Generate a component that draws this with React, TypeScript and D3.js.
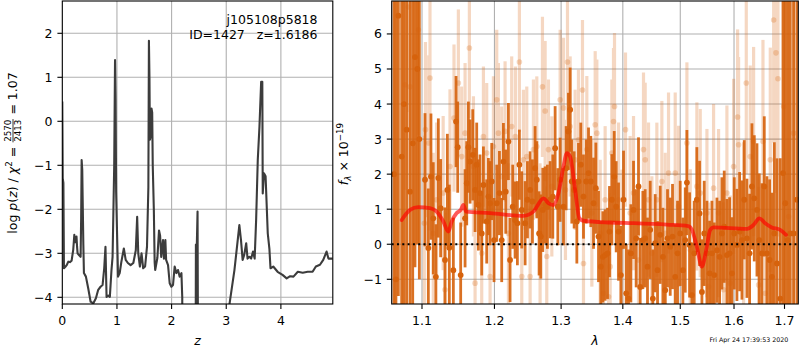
import React from 'react';
import * as d3 from 'd3';

// ---------- left panel: log p(z) ----------
const pzZ = [0.000,0.008,0.020,0.030,0.060,0.080,0.110,0.140,0.170,0.200,0.220,0.235,0.245,0.260,0.270,0.280,0.305,0.335,0.345,0.354,0.365,0.372,0.385,0.396,0.432,0.475,0.518,0.566,0.615,0.657,0.700,0.737,0.767,0.790,0.810,0.840,0.870,0.900,0.920,0.950,0.965,0.975,0.985,1.020,1.050,1.080,1.126,1.160,1.200,1.250,1.300,1.345,1.370,1.390,1.420,1.450,1.480,1.515,1.550,1.575,1.585,1.595,1.603,1.625,1.632,1.645,1.655,1.675,1.690,1.700,1.740,1.770,1.790,1.810,1.843,1.860,1.886,1.900,1.935,1.965,1.996,2.026,2.056,2.088,2.117,2.148,2.180,2.195,2.205,2.435,2.445,2.460,2.475,2.490,2.990,3.000,3.060,3.150,3.190,3.240,3.270,3.300,3.330,3.365,3.390,3.425,3.456,3.490,3.520,3.547,3.577,3.608,3.639,3.660,3.668,3.690,3.720,3.760,3.790,3.810,3.860,3.940,4.030,4.106,4.170,4.230,4.310,4.400,4.490,4.580,4.640,4.715,4.775,4.836,4.870,4.950];
const pzLogP = [0.45,-1.30,-1.40,-3.34,-3.30,-3.27,-3.19,-3.20,-3.17,-2.92,-2.58,-2.75,-2.68,-2.62,-2.85,-3.00,-3.04,-3.08,-2.20,-0.88,-1.10,-1.71,-2.80,-3.45,-3.53,-3.80,-4.10,-4.14,-4.02,-3.83,-3.76,-3.72,-3.34,-2.85,-3.99,-3.96,-3.99,-3.38,-3.08,-1.00,1.39,0.50,-1.60,-3.53,-3.45,-3.20,-2.89,-3.15,-3.22,-3.27,-3.22,-2.93,-2.17,-3.00,-3.30,-3.00,-3.34,-3.30,-2.85,-1.50,1.83,1.00,-0.42,-0.30,0.29,0.20,-1.00,-2.00,-3.20,-3.38,-3.10,-2.48,-2.60,-3.08,-2.70,-3.12,-2.70,-3.15,-3.27,-3.68,-3.76,-3.72,-3.30,-3.45,-3.38,-3.53,-3.45,-4.00,-8.00,-8.00,-2.80,-2.90,-2.05,-8.00,-8.00,-4.70,-4.15,-3.38,-2.93,-2.36,-2.70,-3.15,-3.03,-2.77,-3.12,-3.08,-3.12,-2.96,-3.12,-2.24,-0.88,-0.12,0.90,0.90,-1.64,-1.18,-1.25,-2.55,-2.90,-3.34,-3.30,-3.42,-3.49,-3.57,-3.52,-3.53,-3.42,-3.44,-3.42,-3.42,-3.30,-3.26,-3.15,-2.96,-3.12,-3.12];
const zTicks = [0, 1, 2, 3, 4];
const logpTicks = [-4, -3, -2, -1, 0, 1, 2];

// ---------- right panel: spectrum ----------
const modelWave = [1.0735,1.0843,1.0951,1.1106,1.1196,1.1285,1.1353,1.1400,1.1468,1.1524,1.1560,1.1598,1.1937,1.2425,1.2574,1.2728,1.2804,1.2881,1.2959,1.3037,1.3091,1.3141,1.3221,1.3289,1.3353,1.3789,1.4180,1.4761,1.5147,1.5209,1.5301,1.5394,1.5474,1.5549,1.5610,1.6248,1.6378,1.6494,1.6610,1.6742,1.6912,1.7032];
const modelFlux = [0.69,0.98,1.06,1.03,0.93,0.65,0.36,0.65,0.89,0.98,1.12,0.93,0.89,0.81,0.93,1.31,1.17,1.12,1.46,2.22,2.60,2.50,1.55,0.74,0.67,0.62,0.60,0.56,0.52,0.42,-0.07,-0.64,-0.17,0.41,0.48,0.44,0.55,0.74,0.60,0.48,0.41,0.27];

const darkWave = [1.0636,1.0661,1.0692,1.0735,1.0765,1.0799,1.0843,1.0878,1.0908,1.0939,1.0965,1.1040,1.1084,1.1119,1.1150,1.1185,1.1218,1.1249,1.1308,1.1340,1.1367,1.1422,1.1459,1.1482,1.1523,1.1584,1.1607,1.1630,1.1654,1.1691,1.1724,1.1747,1.1771,1.1794,1.1818,1.1842,1.1889,1.1913,1.1937,1.1961,1.1994,1.2033,1.2072,1.2105,1.2130,1.2164,1.2203,1.2227,1.2266,1.2301,1.2335,1.2365,1.2400,1.2450,1.2485,1.2525,1.2560,1.2600,1.2626,1.2661,1.2687,1.2717,1.2753,1.2788,1.2830,1.2871,1.2907,1.2949,1.2985,1.3037,1.3079,1.3115,1.3142,1.3168,1.3205,1.3248,1.3274,1.3311,1.3354,1.3397,1.3435,1.3472,1.3516,1.3554,1.3597,1.3635,1.3668,1.3706,1.3745,1.3778,1.3817,1.3856,1.3889,1.3928,1.3967,1.4012,1.4057,1.4096,1.4136,1.4181,1.4226,1.4266,1.4295,1.4341,1.4381,1.4421,1.4468,1.4514,1.4555,1.4596,1.4643,1.4690,1.4731,1.4772,1.4820,1.4861,1.4909,1.4951,1.4999,1.5047,1.5090,1.5120,1.5168,1.5211,1.5253,1.5302,1.5351,1.5395,1.5438,1.5488,1.5537,1.5581,1.5625,1.5675,1.5725,1.5769,1.5813,1.5864,1.5915,1.5960,1.6005,1.6056,1.6108,1.6153,1.6198,1.6250,1.6302,1.6348,1.6394,1.6447,1.6493,1.6546,1.6592,1.6645,1.6699,1.6746,1.6793,1.6847,1.6914,1.6969,1.7016,1.7063,1.7118,1.7187,1.7256];
const darkFlux = [2.0,-1.0,6.52,2.5,4.0,3.27,1.5,2.88,5.34,5.0,3.0,1.84,-0.11,1.93,0.74,-0.93,1.89,1.03,-0.45,1.55,-0.10,-0.74,3.50,2.77,-0.88,0.74,1.74,2.77,2.36,2.55,1.55,2.27,1.12,1.46,0.31,1.69,0.65,1.36,1.17,1.79,0.12,1.17,1.46,0.12,2.36,1.50,2.93,-0.45,1.07,0.69,0.60,2.27,0.98,0.60,1.27,1.55,1.22,2.17,1.84,0.31,0.22,0.98,1.12,1.07,1.27,1.36,2.74,1.07,1.84,1.07,2.17,3.22,3.84,1.79,1.55,0.65,1.79,2.27,1.36,1.79,2.03,1.79,1.17,1.60,0.22,-0.64,-0.36,-0.31,-0.26,0.36,1.27,1.93,1.07,0.36,-0.88,1.27,-1.40,-1.55,-0.26,0.98,0.17,1.65,-1.22,0.12,0.17,-0.64,0.41,-1.55,0.03,-0.74,0.27,-0.36,-1.31,0.17,-0.07,0.22,-0.93,-0.26,0.31,-0.74,0.12,1.76,-0.02,-1.45,-0.26,1.27,0.88,-1.36,0.31,-0.26,-0.83,-0.26,-0.88,-0.17,-0.36,0.31,0.50,-0.31,-0.26,-0.83,0.31,-0.02,0.36,0.12,1.27,0.17,-0.26,1.65,1.31,0.98,0.12,-0.26,1.65,-0.26,-0.45,-0.93,0.31,-0.55,-1.55,2.03,1.17,0.12,0.31,0.31,1.27];
const darkErr = [10,10,8,10,9,6,8,5,6,5,4,1.9,1.7,1.8,1.6,1.5,1.7,1.4,1.5,1.6,1.8,1.5,1.3,1.3,1.5,1.4,1.2,1.3,1.2,1.3,1.2,1.2,1.3,1.1,1.2,1.1,1.2,1.1,1.2,1.1,1.2,1.1,1.2,1.2,1.1,1.2,1.1,1.2,1.2,1.1,1.2,1.0,1.1,1.2,1.1,1.1,1.2,1.2,1.1,1.2,1.2,1.2,1.1,1.2,1.1,1.2,1.2,1.1,1.2,1.1,1.2,1.1,1.2,1.2,1.1,1.2,1.1,1.2,1.2,1.2,1.3,1.3,1.3,1.3,1.3,1.3,1.3,1.3,1.3,1.3,1.3,1.3,1.3,1.4,1.4,1.4,1.4,1.4,1.4,1.4,1.4,1.4,1.4,1.4,1.4,1.4,1.4,1.4,1.4,1.4,1.4,1.4,1.4,1.4,1.4,1.5,1.5,1.5,1.5,1.5,1.5,1.5,1.5,1.5,1.5,1.5,1.5,1.5,1.5,1.5,1.5,1.5,1.5,1.5,1.6,1.6,1.6,1.6,1.6,1.6,1.6,1.6,1.7,1.7,1.7,1.7,1.7,1.8,1.8,1.9,1.9,2.0,2.0,2.2,2.3,2.4,2.6,3.0,4,5,6,8,9,10,10];

const lightWave = [1.0778,1.0821,1.0843,1.0952,1.1031,1.1046,1.1089,1.1106,1.1150,1.1194,1.1283,1.1308,1.1376,1.1431,1.1491,1.1537,1.1584,1.1644,1.1701,1.1724,1.1818,1.1842,1.1889,1.1937,1.1985,1.2033,1.2057,1.2105,1.2154,1.2203,1.2251,1.2306,1.2365,1.2400,1.2425,1.2475,1.2525,1.2575,1.2626,1.2676,1.2712,1.2753,1.2778,1.2804,1.2856,1.2985,1.3037,1.3068,1.3100,1.3142,1.3221,1.3274,1.3338,1.3354,1.3408,1.3489,1.3543,1.3570,1.3625,1.3679,1.3706,1.3762,1.3789,1.3817,1.3844,1.3861,1.3928,1.3984,1.4045,1.4124,1.4181,1.4266,1.4352,1.4381,1.4439,1.4497,1.4584,1.4672,1.4731,1.4790,1.4909,1.4969,1.5120,1.5181,1.5302,1.5364,1.5488,1.5519,1.5612,1.5706,1.5801,1.5864,1.5928,1.5992,1.6069,1.6088,1.6185,1.6237,1.6315,1.6381,1.6480,1.6566,1.6612,1.6712,1.6780,1.6827,1.6867,1.6983,1.7085,1.7187];
const lightFlux = [4.55,6.77,4.49,6.12,0.60,3.27,2.89,4.74,0.31,1.27,1.46,-1.30,2.22,3.60,4.60,2.50,3.17,5.60,2.22,-1.11,-0.26,3.07,2.60,-0.92,2.79,4.12,3.17,1.93,3.22,0.31,3.36,3.07,5.20,-0.92,2.41,2.50,-0.92,2.70,2.79,0.31,4.49,3.80,-0.35,2.70,1.65,4.12,3.89,1.55,5.20,3.36,2.41,2.98,4.40,-0.55,2.70,0.89,3.41,3.17,0.31,-1.40,1.27,-1.50,-0.64,2.60,3.50,3.93,1.27,-0.07,3.27,0.89,1.46,-0.45,2.70,2.41,1.27,-0.26,1.27,1.79,0.31,2.03,2.03,1.08,2.89,-0.16,1.65,1.46,0.89,-1.21,1.60,0.89,-1.30,1.46,-1.11,2.22,3.63,2.84,0.31,4.60,2.50,2.93,-1.16,2.93,-1.40,2.41,6.40,5.46,4.72,3.93,0.79,3.17];
const lightErr = [3,3,3,3,2.5,2.5,2.5,2.5,2.3,2.2,2.2,2.2,2.2,2.1,2.1,2.0,2.0,2.0,2.0,2.0,2.0,2.0,2.0,2.0,2.0,2.0,2.0,2.0,2.0,2.0,2.0,2.0,2.0,2.0,2.0,2.0,2.0,2.0,2.0,2.0,2.0,2.0,2.0,2.0,2.0,2.0,2.0,2.0,2.0,2.0,2.0,2.0,2.0,2.0,2.1,2.1,2.1,2.1,2.1,2.1,2.1,2.1,2.1,2.1,2.1,2.1,2.2,2.2,2.2,2.2,2.2,2.2,2.2,2.2,2.2,2.2,2.2,2.3,2.3,2.3,2.3,2.3,2.3,2.3,2.4,2.4,2.4,2.4,2.4,2.4,2.5,2.5,2.5,2.5,2.5,2.5,2.6,2.6,2.6,2.7,2.8,2.9,3.0,3.2,3.5,4,4.5,6,8,10];

const waveTicks = [1.1, 1.2, 1.3, 1.4, 1.5, 1.6, 1.7];
const fluxTicks = [-1, 0, 1, 2, 3, 4, 5, 6];

const titleLine1 = 'j105108p5818';
const titleLine2 = 'ID=1427   z=1.6186';
const timestamp = 'Fri Apr 24 17:39:53 2020';

// ---------- helpers ----------
const FONT = '"DejaVu Sans", "Liberation Sans", sans-serif';
const ORANGE = '#d6620c';
const GRID = '#b0b0b0';

let ctx: CanvasRenderingContext2D | null = null;
function tw(s: string, size: number, italic = false): number {
  if (!ctx) ctx = document.createElement('canvas').getContext('2d');
  if (!ctx) return s.length * size * 0.6;
  ctx.font = `${italic ? 'italic ' : ''}${size}px "DejaVu Sans"`;
  return ctx.measureText(s).width;
}

type Piece = { t: string; s: number; it?: boolean; dy?: number; frac?: [string, string] };

function MathLabel({ pieces, cx, cy }: { pieces: Piece[]; cx: number; cy: number }) {
  const widths = pieces.map(p => p.frac ? Math.max(tw(p.frac[0], p.s), tw(p.frac[1], p.s)) + 2 : tw(p.t, p.s, p.it));
  const total = widths.reduce((a, b) => a + b, 0);
  let x = -total / 2;
  const els: React.ReactNode[] = [];
  pieces.forEach((p, i) => {
    const w = widths[i];
    if (p.frac) {
      els.push(<text key={i + 'n'} x={x + w / 2} y={-5.6} fontSize={p.s} textAnchor="middle">{p.frac[0]}</text>);
      els.push(<line key={i + 'l'} x1={x + 0.5} x2={x + w - 0.5} y1={-4.0} y2={-4.0} stroke="black" strokeWidth={0.8} />);
      els.push(<text key={i + 'd'} x={x + w / 2} y={3.6} fontSize={p.s} textAnchor="middle">{p.frac[1]}</text>);
    } else {
      els.push(<text key={i} x={x} y={p.dy || 0} fontSize={p.s} fontStyle={p.it ? 'italic' : 'normal'} style={{ whiteSpace: 'pre' }}>{p.t}</text>);
    }
    x += w;
  });
  return <g transform={`translate(${cx},${cy}) rotate(-90)`} fontFamily={FONT} fill="black">{els}</g>;
}

// ---------- layout ----------
const L = { x0: 62.3, x1: 332.8, y0: 1, y1: 304 };
const R = { x0: 391.7, x1: 798.3, y0: 1, y1: 304 };
const TICK = 4.9;
const FS = 12.5;

export default function App() {
  const zS = d3.scaleLinear().domain([0, 4.95]).range([L.x0, L.x1]);
  const pS = d3.scaleLinear().domain([-4.152, 2.734]).range([L.y1, L.y0]);
  const wS = d3.scaleLog().domain([1.0607, 1.7284]).range([R.x0, R.x1]);
  const fS = d3.scaleLinear().domain([-1.705, 6.94]).range([R.y1, R.y0]);
  const fmt = d3.format('d');
  const fmt1 = d3.format('.1f');

  const pzLine = d3.line<number>().x((d, i) => zS(pzZ[i])).y(d => pS(d));
  const modelLine = d3.line<number>().x((d, i) => wS(modelWave[i])).y(d => fS(d)).curve(d3.curveMonotoneX);

  const leftLabel: Piece[] = [
    { t: 'log', s: FS }, { t: ' ', s: FS }, { t: 'p', s: FS, it: true }, { t: '(', s: FS },
    { t: 'z', s: FS, it: true }, { t: ')', s: FS }, { t: ' / ', s: FS }, { t: 'χ', s: FS, it: true },
    { t: '2', s: 8.75, dy: -4.6 }, { t: ' = ', s: FS }, { t: '', s: 8.75, frac: ['2570', '2413'] },
    { t: ' = 1.07', s: FS },
  ];
  const rightLabel: Piece[] = [
    { t: 'f', s: FS, it: true }, { t: 'λ', s: 8.75, it: true, dy: 2.6 }, { t: ' × 10', s: FS },
    { t: '−19', s: 8.75, dy: -5 },
  ];

  return (
    <svg width={800} height={350} style={{ position: 'absolute', left: 0, top: 0, background: 'white' }}
      fontFamily={FONT}>
      <defs>
        <clipPath id="clipL"><rect x={L.x0} y={L.y0} width={L.x1 - L.x0} height={L.y1 - L.y0} /></clipPath>
        <clipPath id="clipR"><rect x={R.x0} y={R.y0} width={R.x1 - R.x0} height={R.y1 - R.y0} /></clipPath>
      </defs>
      <rect width={800} height={350} fill="white" />

      {/* ---- left panel ---- */}
      <g clipPath="url(#clipL)">
        {zTicks.map(t => <line key={'gz' + t} x1={zS(t)} x2={zS(t)} y1={L.y0} y2={L.y1} stroke={GRID} strokeWidth={1.1} />)}
        {logpTicks.map(t => <line key={'gp' + t} x1={L.x0} x2={L.x1} y1={pS(t)} y2={pS(t)} stroke={GRID} strokeWidth={1.1} />)}
        <path d={pzLine(pzLogP) || ''} fill="none" stroke="#3c3c3c" strokeWidth={2.1} strokeLinejoin="round" />
      </g>
      <rect x={L.x0} y={L.y0} width={L.x1 - L.x0} height={L.y1 - L.y0} fill="none" stroke="black" strokeWidth={1.1} />
      {zTicks.map(t => (
        <g key={'tz' + t}>
          <line x1={zS(t)} x2={zS(t)} y1={L.y1} y2={L.y1 + TICK} stroke="black" strokeWidth={1.1} />
          <text x={zS(t)} y={324.5} fontSize={FS} textAnchor="middle">{fmt(t)}</text>
        </g>
      ))}
      {logpTicks.map(t => (
        <g key={'tp' + t}>
          <line x1={L.x0 - TICK} x2={L.x0} y1={pS(t)} y2={pS(t)} stroke="black" strokeWidth={1.1} />
          <text x={L.x0 - TICK - 4.9} y={pS(t) + 4.5} fontSize={FS} textAnchor="end">{fmt(t)}</text>
        </g>
      ))}
      <text x={317.5} y={23.7} fontSize={FS} textAnchor="end">{titleLine1}</text>
      <text x={317.5} y={39.3} fontSize={FS} textAnchor="end" style={{ whiteSpace: 'pre' }}>{titleLine2}</text>
      <text x={197.5} y={345} fontSize={FS} textAnchor="middle" fontStyle="italic">z</text>
      <MathLabel pieces={leftLabel} cx={17} cy={153} />

      {/* ---- right panel ---- */}
      <g clipPath="url(#clipR)">
        {waveTicks.map(t => <line key={'gw' + t} x1={wS(t)} x2={wS(t)} y1={R.y0} y2={R.y1} stroke={GRID} strokeWidth={1.1} />)}
        {fluxTicks.map(t => <line key={'gf' + t} x1={R.x0} x2={R.x1} y1={fS(t)} y2={fS(t)} stroke={GRID} strokeWidth={1.1} />)}
        <g opacity={0.25}>
          {lightWave.map((w, i) => (
            <line key={'le' + i} x1={wS(w)} x2={wS(w)} y1={fS(lightFlux[i] - lightErr[i])} y2={fS(lightFlux[i] + lightErr[i])}
              stroke={ORANGE} strokeWidth={3.2} />
          ))}
        </g>
        {lightWave.map((w, i) => (
          <circle key={'lp' + i} cx={wS(w)} cy={fS(lightFlux[i])} r={2.8} fill={ORANGE} opacity={0.25} />
        ))}
        {darkWave.map((w, i) => (
          <line key={'de' + i} x1={wS(w)} x2={wS(w)} y1={fS(darkFlux[i] - darkErr[i])} y2={fS(darkFlux[i] + darkErr[i])}
            stroke={ORANGE} strokeWidth={2.8} opacity={0.9} />
        ))}
        {darkWave.map((w, i) => (
          <circle key={'dp' + i} cx={wS(w)} cy={fS(darkFlux[i])} r={2.9} fill={ORANGE} />
        ))}
        <line x1={R.x0} x2={R.x1} y1={fS(0)} y2={fS(0)} stroke="black" strokeWidth={2} strokeDasharray="2,3.3" />
        <path d={modelLine(modelFlux) || ''} fill="none" stroke="red" strokeOpacity={0.65} strokeWidth={3.8}
          strokeLinejoin="round" strokeLinecap="round" />
      </g>
      <rect x={R.x0} y={R.y0} width={R.x1 - R.x0} height={R.y1 - R.y0} fill="none" stroke="black" strokeWidth={1.1} />
      {waveTicks.map(t => (
        <g key={'tw' + t}>
          <line x1={wS(t)} x2={wS(t)} y1={R.y1} y2={R.y1 + TICK} stroke="black" strokeWidth={1.1} />
          <text x={wS(t)} y={324.5} fontSize={FS} textAnchor="middle">{fmt1(t)}</text>
        </g>
      ))}
      {fluxTicks.map(t => (
        <g key={'tf' + t}>
          <line x1={R.x0 - TICK} x2={R.x0} y1={fS(t)} y2={fS(t)} stroke="black" strokeWidth={1.1} />
          <text x={R.x0 - TICK - 4.9} y={fS(t) + 4.5} fontSize={FS} textAnchor="end">{fmt(t)}</text>
        </g>
      ))}
      <text x={595} y={345} fontSize={FS} textAnchor="middle" fontStyle="italic">λ</text>
      <MathLabel pieces={rightLabel} cx={348} cy={154} />
      <text x={788.3} y={342} fontSize={6.3} textAnchor="end">{timestamp}</text>
    </svg>
  );
}
